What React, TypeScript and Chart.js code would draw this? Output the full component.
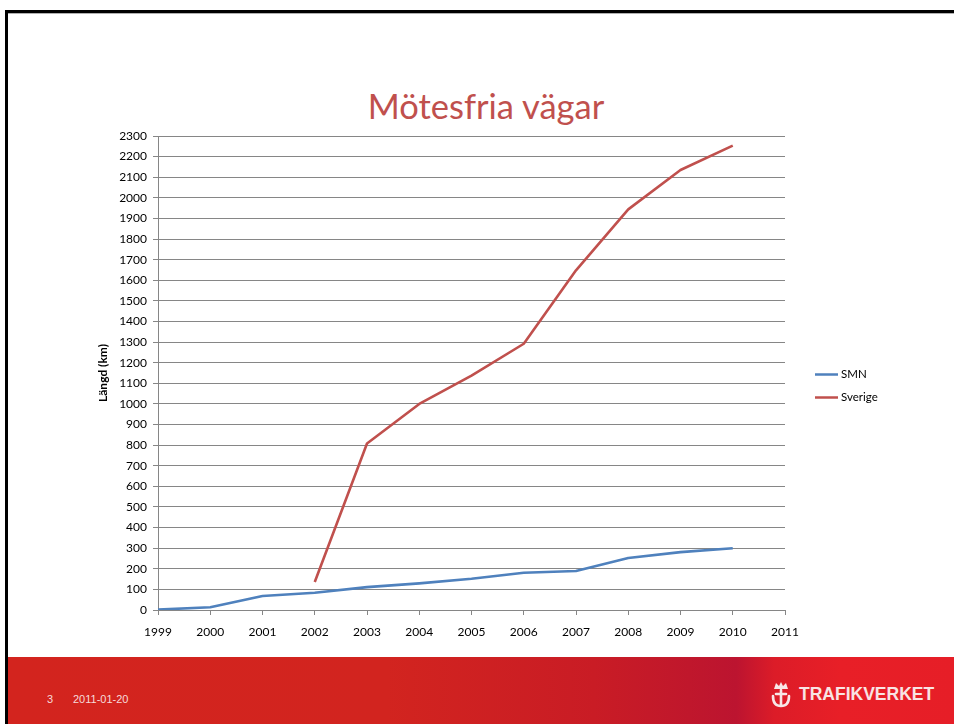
import React, { useEffect, useRef } from "react";
import { Chart, registerables } from "chart.js";

Chart.register(...registerables);

// ---- data ----
const years = ["1999", "2000", "2001", "2002", "2003", "2004", "2005", "2006", "2007", "2008", "2009", "2010", "2011"];
const smnValues = [2, 13, 68, 84, 111, 129, 152, 181, 189, 252, 281, 300];
const sverigeValues = [null, null, null, 136, 808, 1000, 1137, 1292, 1648, 1944, 2135, 2253];
const seriesNames = ["SMN", "Sverige"];
const yMax = 2300;
const yStep = 100;
const chartTitle = "Mötesfria vägar";
const yAxisTitle = "Längd (km)";
const footerPage = "3";
const footerDate = "2011-01-20";
const logoText = "TRAFIKVERKET";

const FONT = "Lato, 'Open Sans', sans-serif";

const sideLegend = {
  id: "sideLegend",
  afterDraw(chart: any) {
    const { ctx, chartArea } = chart;
    const cy = (chartArea.top + chartArea.bottom) / 2;
    ctx.save();
    ctx.font = `11.5px ${FONT}`;
    ctx.textBaseline = "middle";
    ctx.textAlign = "left";
    chart.data.datasets.forEach((ds: any, i: number) => {
      const y = Math.round(cy + 1 + i * 23) + 0.5;
      const x = chartArea.right + 30;
      ctx.strokeStyle = ds.borderColor;
      ctx.lineWidth = 2.5;
      ctx.beginPath();
      ctx.moveTo(x, y);
      ctx.lineTo(x + 23, y);
      ctx.stroke();
      ctx.fillStyle = "#000";
      ctx.fillText(ds.label, x + 26, y);
    });
    ctx.restore();
  },
};

function ChartView() {
  const ref = useRef<HTMLCanvasElement | null>(null);
  useEffect(() => {
    if (!ref.current) return;
    const grid = "#868686";
    const chart = new Chart(ref.current, {
      type: "line",
      data: {
        labels: years,
        datasets: [
          {
            label: seriesNames[0],
            data: smnValues,
            borderColor: "#4F81BD",
            backgroundColor: "#4F81BD",
            borderWidth: 2.6,
            pointRadius: 0,
            tension: 0,
            borderJoinStyle: "round",
          },
          {
            label: seriesNames[1],
            data: sverigeValues,
            borderColor: "#C0504D",
            backgroundColor: "#C0504D",
            borderWidth: 2.6,
            pointRadius: 0,
            tension: 0,
            borderJoinStyle: "round",
          },
        ],
      },
      options: {
        responsive: false,
        animation: false,
        devicePixelRatio: 1,
        layout: { padding: { top: 16, right: 115, bottom: 0, left: 0 } },
        plugins: {
          legend: { display: false },
          title: { display: false },
          tooltip: { enabled: false },
        },
        scales: {
          x: {
            type: "category",
            offset: false,
            grid: {
              display: true,
              drawOnChartArea: false,
              drawTicks: true,
              tickLength: 5,
              color: grid,
            },
            border: { display: true, color: grid },
            ticks: {
              color: "#000",
              font: { family: FONT, size: 12 },
              padding: 10,
              maxRotation: 0,
              autoSkip: false,
            },
            afterFit(scale: any) {
              scale.height = 40;
            },
          },
          y: {
            min: 0,
            max: yMax,
            grid: {
              color: grid,
              drawTicks: true,
              tickLength: 5,
            },
            border: { display: true, color: grid },
            ticks: {
              stepSize: yStep,
              color: "#000",
              font: { family: FONT, size: 12 },
              padding: 6,
              autoSkip: false,
              callback: (v: any) => String(v),
            },
            title: {
              display: true,
              text: yAxisTitle,
              color: "#000",
              font: { family: FONT, size: 12, weight: "bold" },
              padding: { top: 6, bottom: 0 },
            },
            afterFit(scale: any) {
              scale.width = 68;
            },
          },
        },
      },
      plugins: [sideLegend],
    } as any);
    return () => chart.destroy();
  }, []);
  return (
    <canvas
      ref={ref}
      width={810}
      height={530}
      style={{ position: "absolute", left: 90, top: 120, width: 810, height: 530 }}
    />
  );
}

export default function App() {
  return (
    <div
      style={{
        position: "fixed",
        left: 0,
        top: 0,
        width: 954,
        height: 724,
        background: "#fff",
        overflow: "hidden",
      }}
    >
      {/* slide frame */}
      <div style={{ position: "absolute", left: 5, top: 10, width: 949, height: 3, background: "#000" }} />
      <div style={{ position: "absolute", left: 5, top: 13, width: 949, height: 1, background: "#b0b0b0" }} />
      <div style={{ position: "absolute", left: 5, top: 10, width: 3, height: 714, background: "#000" }} />

      {/* title */}
      <div
        style={{
          position: "absolute",
          left: 0,
          top: 85,
          width: 972,
          textAlign: "center",
          fontFamily: FONT,
          fontSize: 34.5,
          lineHeight: "41px",
          color: "#C0504D",
          whiteSpace: "nowrap",
        }}
      >
        {chartTitle}
      </div>

      <ChartView />

      {/* footer */}
      <div
        style={{
          position: "absolute",
          left: 8,
          top: 657,
          width: 946,
          height: 67,
          background:
            "linear-gradient(to right, #d3241e 0%, #d2241f 40%, #c91c25 62%, #c0172c 72%, #bc1430 77%, #dc1c28 81%, #e81f27 88%, #e61e27 100%)",
        }}
      />
      <div
        style={{
          position: "absolute",
          left: 47,
          top: 693,
          fontFamily: "'Liberation Sans', Arial, sans-serif",
          fontSize: 11,
          lineHeight: "12px",
          color: "#f6dada",
        }}
      >
        {footerPage}
      </div>
      <div
        style={{
          position: "absolute",
          left: 73,
          top: 693,
          fontFamily: "'Liberation Sans', Arial, sans-serif",
          fontSize: 11,
          lineHeight: "12px",
          color: "#f6dada",
        }}
      >
        {footerDate}
      </div>
      <svg
        style={{ position: "absolute", left: 769, top: 680 }}
        width={24}
        height={28}
        viewBox="0 0 24 28"
      >
        <g fill="none" stroke="#f8e6e6" strokeWidth={2.6} strokeLinecap="round">
          <path d="M4 16 Q4 26 12 26 Q20 26 20 16" />
          <path d="M12 10 L12 25" />
          <path d="M7 14 L17 14" />
        </g>
        <g fill="#f8e6e6">
          <path d="M5 9 L7 3 L10 6 L12 2 L14 6 L17 3 L19 9 Z" />
        </g>
      </svg>
      <div
        style={{
          position: "absolute",
          left: 799,
          top: 684,
          fontFamily: "'Liberation Sans', Arial, sans-serif",
          fontWeight: "bold",
          fontSize: 17.5,
          lineHeight: "20px",
          color: "#f8e4e4",
        }}
      >
        {logoText}
      </div>
    </div>
  );
}
